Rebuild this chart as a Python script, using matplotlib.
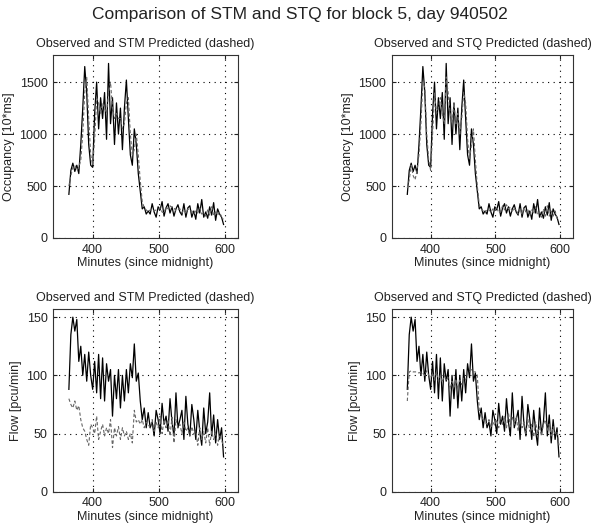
import numpy as np
import matplotlib
matplotlib.use('Agg')
import matplotlib.pyplot as plt

plt.rcParams['font.family'] = ['Liberation Sans', 'DejaVu Sans']

# minutes since midnight, sampled every 3 minutes
minutes = np.arange(364, 599, 3)

# occupancy [10*ms]
occ_obs = [420, 650, 720, 640, 700, 620, 900, 1250, 1650, 1400,
           900, 700, 680, 1200, 1500, 1050, 1350, 1150, 1400, 950,
           1680, 1100, 1350, 900, 1300, 1000, 1250, 850, 1250, 1520,
           1150, 800, 700, 1050, 900, 620, 450, 280, 300, 230,
           260, 230, 330, 250, 200, 300, 270, 350, 210, 290,
           330, 240, 300, 210, 280, 320, 250, 220, 330, 200,
           290, 310, 200, 260, 180, 330, 240, 370, 200, 250,
           190, 300, 220, 340, 170, 280, 230, 200, 130]
occ_stm = [500, 600, 680, 700, 650, 680, 750, 1000, 1400, 1550,
           1150, 800, 700, 950, 1350, 1300, 1200, 1300, 1250, 1200,
           1400, 1500, 1250, 1150, 1200, 1150, 1150, 1050, 1100, 1300,
           1350, 1000, 800, 850, 1000, 800, 550, 350, 290, 270,
           250, 270, 280, 260, 270, 270, 290, 250, 240, 300,
           280, 310, 290, 290, 260, 270, 280, 240, 270, 240,
           280, 260, 260, 230, 260, 240, 290, 230, 240, 210,
           270, 220, 300, 220, 250, 220, 250, 200, 180]
occ_stq = [480, 560, 700, 600, 560, 650, 800, 1100, 1500, 1450,
           1000, 750, 650, 1000, 1400, 1200, 1250, 1350, 1200, 1100,
           1550, 1400, 1200, 1100, 1300, 1100, 1200, 1000, 1150, 1400,
           1300, 950, 750, 900, 1050, 750, 500, 320, 280, 260,
           240, 280, 270, 250, 280, 260, 300, 240, 250, 310,
           270, 320, 280, 300, 250, 280, 270, 230, 280, 230,
           290, 250, 270, 220, 270, 230, 300, 220, 250, 200,
           280, 210, 310, 210, 260, 210, 260, 190, 170]

# flow [pcu/min]
flow_obs = [88, 135, 150, 138, 148, 112, 125, 100, 118, 95,
            120, 100, 88, 112, 85, 118, 80, 115, 78, 110,
            95, 105, 65, 100, 80, 105, 72, 100, 78, 105,
            85, 110, 98, 127, 95, 102, 78, 62, 72, 55,
            68, 55, 60, 48, 70, 62, 50, 76, 58, 65,
            52, 80, 60, 48, 85, 55, 62, 70, 45, 82,
            58, 48, 75, 62, 45, 70, 52, 40, 72, 50,
            60, 85, 48, 66, 42, 62, 45, 55, 30]
flow_stm = [80, 75, 72, 78, 70, 74, 62, 55, 52, 45,
            40, 58, 55, 50, 65, 45, 52, 58, 48, 55,
            50, 62, 38, 55, 48, 56, 45, 55, 48, 52,
            45, 50, 42, 70, 60, 62, 58, 62, 55, 60,
            58, 55, 62, 52, 60, 55, 65, 50, 62, 55,
            62, 48, 64, 42, 62, 55, 58, 50, 60, 52,
            55, 48, 56, 50, 52, 40, 55, 45, 52, 42,
            55, 40, 52, 45, 50, 40, 48, 45, 38]
flow_stq = [78, 103, 104, 103, 103, 103, 102, 103, 102, 100,
            104, 100, 98, 102, 96, 103, 95, 100, 94, 100,
            96, 98, 88, 95, 90, 97, 88, 96, 92, 98,
            96, 103, 103, 105, 103, 103, 100, 70, 65, 62,
            60, 58, 62, 55, 60, 57, 62, 55, 64, 58,
            65, 55, 68, 56, 64, 58, 65, 52, 62, 55,
            60, 50, 62, 52, 58, 47, 60, 50, 56, 48,
            58, 62, 52, 58, 48, 56, 50, 52, 40]

TXT = '#222222'

panels = [
    # (rect, observed, predicted, title, ylabel, ylim, yticks)
    ([0.0885, 0.551, 0.309, 0.345], occ_obs, occ_stm,
     'Observed and STM Predicted (dashed)', 'Occupancy [10*ms]', 1760, [0, 500, 1000, 1500]),
    ([0.654, 0.551, 0.303, 0.345], occ_obs, occ_stq,
     'Observed and STQ Predicted (dashed)', 'Occupancy [10*ms]', 1760, [0, 500, 1000, 1500]),
    ([0.0885, 0.072, 0.309, 0.345], flow_obs, flow_stm,
     'Observed and STM Predicted (dashed)', 'Flow [pcu/min]', 157, [0, 50, 100, 150]),
    ([0.654, 0.072, 0.303, 0.345], flow_obs, flow_stq,
     'Observed and STQ Predicted (dashed)', 'Flow [pcu/min]', 157, [0, 50, 100, 150]),
]

fig = plt.figure(figsize=(5.99, 5.30), dpi=100)
fig.text(0.5, 0.972, 'Comparison of STM and STQ for block 5, day 940502',
         ha='center', va='center', fontsize=12.5, color=TXT)

for rect, obs, pred, title, ylabel, ytop, yticks in panels:
    ax = fig.add_axes(rect)
    ax.plot(minutes, obs, color='black', linewidth=0.9)
    ax.plot(minutes, pred, color='#666666', linewidth=0.8, linestyle=(0, (3, 2)))
    ax.set_xlim(340, 620)
    ax.set_ylim(0, ytop)
    ax.set_xticks([400, 500, 600])
    ax.set_yticks(yticks)
    ax.grid(True, color='black', linestyle=(0, (1, 4)), linewidth=0.8)
    ax.tick_params(direction='in', length=3, top=True, right=True,
                   labelsize=9, colors=TXT, pad=4)
    ax.set_title(title, fontsize=9, color=TXT, pad=6)
    ax.set_xlabel('Minutes (since midnight)', fontsize=9, color=TXT, labelpad=1)
    ax.set_ylabel(ylabel, fontsize=9, color=TXT, labelpad=3)
    for s in ax.spines.values():
        s.set_color('#333333')
        s.set_linewidth(0.8)

fig.savefig('out.png', dpi=100)
